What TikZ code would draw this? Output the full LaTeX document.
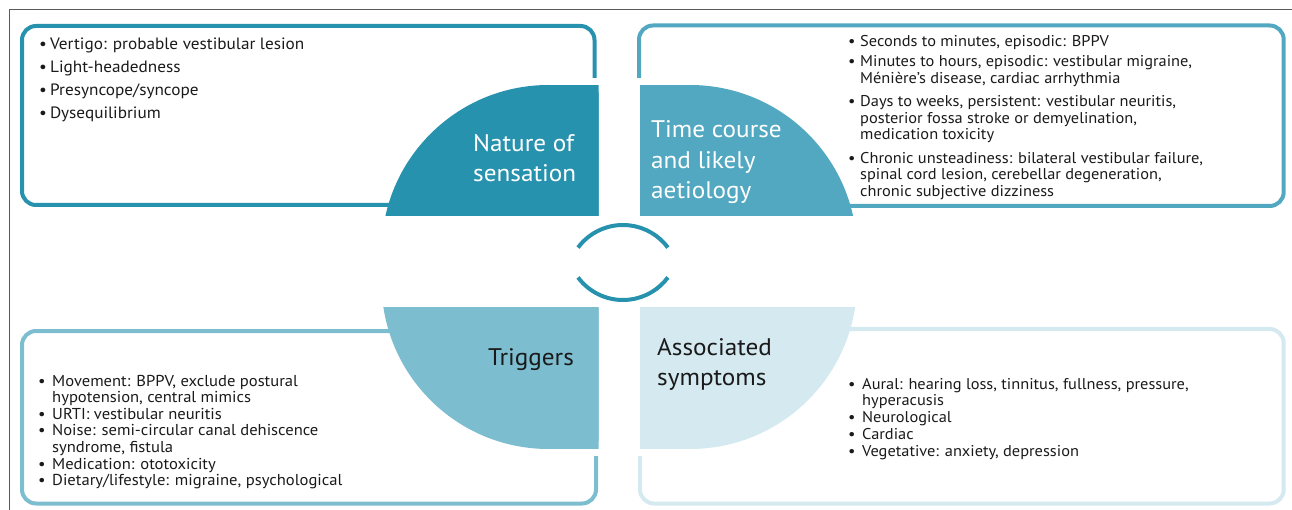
\documentclass[tikz,border=0pt]{standalone}
\usepackage{fontspec}
\setmainfont{PT Sans}[FakeStretch=1.05]
\definecolor{cA}{HTML}{2792AE}
\definecolor{cB}{HTML}{52A8C1}
\definecolor{cC}{HTML}{7DBDD0}
\definecolor{cD}{HTML}{D4E9F0}
\definecolor{frm}{HTML}{5A5A5A}
\definecolor{ink}{HTML}{1A1A1A}
\newcommand\bul[1]{\makebox[#1][l]{\textbullet}}
\newcommand\ind[1]{\hspace*{#1}}
\begin{document}
\begin{tikzpicture}[x=1pt,y=-1pt,
  boxline/.style={line width=4pt, rounded corners=14pt},
  body/.style={anchor=base west, inner sep=0pt, align=left, text=ink},
  head/.style={anchor=base west, inner sep=0pt, align=left, font=\fontsize{24}{30.5}\selectfont},
  arcline/.style={cA, line width=4pt}
]
\useasboundingbox (0,0) rectangle (1292,510);
% frame
\draw[frm, line width=1.2pt] (9.5,510) -- (9.5,9.5) -- (1292,9.5);
% boxes
\draw[boxline, cA] (594.5,78) -- (594.5,26) -- (22,26) -- (22,205) -- (390,205);
\draw[boxline, cB] (639,78) -- (639,25.5) -- (1283.7,25.5) -- (1283.7,206) -- (850,206);
\draw[boxline, cC] (390,331) -- (22,331) -- (22,503.5) -- (596,503.5) -- (596,456);
\draw[boxline, cD] (850,329) -- (1283.7,329) -- (1283.7,503.5) -- (640,503.5) -- (640,456);
% quarter discs
\begin{scope}\clip (300,85) rectangle (598.5,216);
  \fill[cA] (548.5,252) circle[radius=167]; \fill[cA] (548.5,85) rectangle (598.5,216); \end{scope}
\begin{scope}\clip (640,85) rectangle (900,216);
  \fill[cB] (690,252) circle[radius=167]; \fill[cB] (640,85) rectangle (690,216); \end{scope}
\begin{scope}\clip (300,308) rectangle (598.5,449);
  \fill[cC] (548.5,282) circle[radius=167]; \fill[cC] (548.5,308) rectangle (598.5,449); \end{scope}
\begin{scope}\clip (640,308) rectangle (900,449);
  \fill[cD] (690,282) circle[radius=167]; \fill[cD] (640,308) rectangle (690,449); \end{scope}
% centre arcs
\draw[arcline] (578,247.6) arc[start angle=216.6, end angle=323.4, radius=56];
\draw[arcline] (578,277.4) arc[start angle=143.4, end angle=36.6, radius=56];
% headings (anchor = baseline of last line)
\node[head, text=white] (hA) at (473,182) {Nature of\\sensation};
\node[head, text=white] (hB) at (651,199) {Time course\\and likely\\aetiology};
\node[head, text=ink] (hC) at (488,365) {Triggers};
\node[head, text=ink] (hD) at (657,385.5) {Associated\\symptoms};
% bodies (anchor = baseline of last line)
\node[body, font=\fontsize{16.4}{23}\selectfont] (tA) at (39,119) {%
\bul{11pt}Vertigo: probable vestibular lesion\\
\bul{11pt}Light-headedness\\
\bul{11pt}Presyncope/syncope\\
\bul{11pt}Dysequilibrium};
\node[body, font=\fontsize{15.6}{16.5}\selectfont] (tB) at (848,196.5) {%
\bul{12pt}Seconds to minutes, episodic: BPPV\\[4pt]
\bul{12pt}Minutes to hours, episodic: vestibular migraine,\\
\ind{12pt}Ménière’s disease, cardiac arrhythmia\\[7pt]
\bul{12pt}Days to weeks, persistent: vestibular neuritis,\\
\ind{12pt}posterior fossa stroke or demyelination,\\
\ind{12pt}medication toxicity\\[7pt]
\bul{12pt}Chronic unsteadiness: bilateral vestibular failure,\\
\ind{12pt}spinal cord lesion, cerebellar degeneration,\\
\ind{12pt}chronic subjective dizziness};
\node[body, font=\fontsize{15.8}{16.6}\selectfont] (tC) at (38,485.6) {%
\bul{14pt}Movement: BPPV, exclude postural\\
\ind{14pt}hypotension, central mimics\\
\bul{14pt}URTI: vestibular neuritis\\
\bul{14pt}Noise: semi-circular canal dehiscence\\
\ind{14pt}syndrome, fistula\\
\bul{14pt}Medication: ototoxicity\\
\bul{14pt}Dietary/lifestyle: migraine, psychological};
\node[body, font=\fontsize{15.6}{16.8}\selectfont] (tD) at (848,456.2) {%
\bul{14pt}Aural: hearing loss, tinnitus, fullness, pressure,\\
\ind{14pt}hyperacusis\\
\bul{14pt}Neurological\\
\bul{14pt}Cardiac\\
\bul{14pt}Vegetative: anxiety, depression};
\end{tikzpicture}
\end{document}
